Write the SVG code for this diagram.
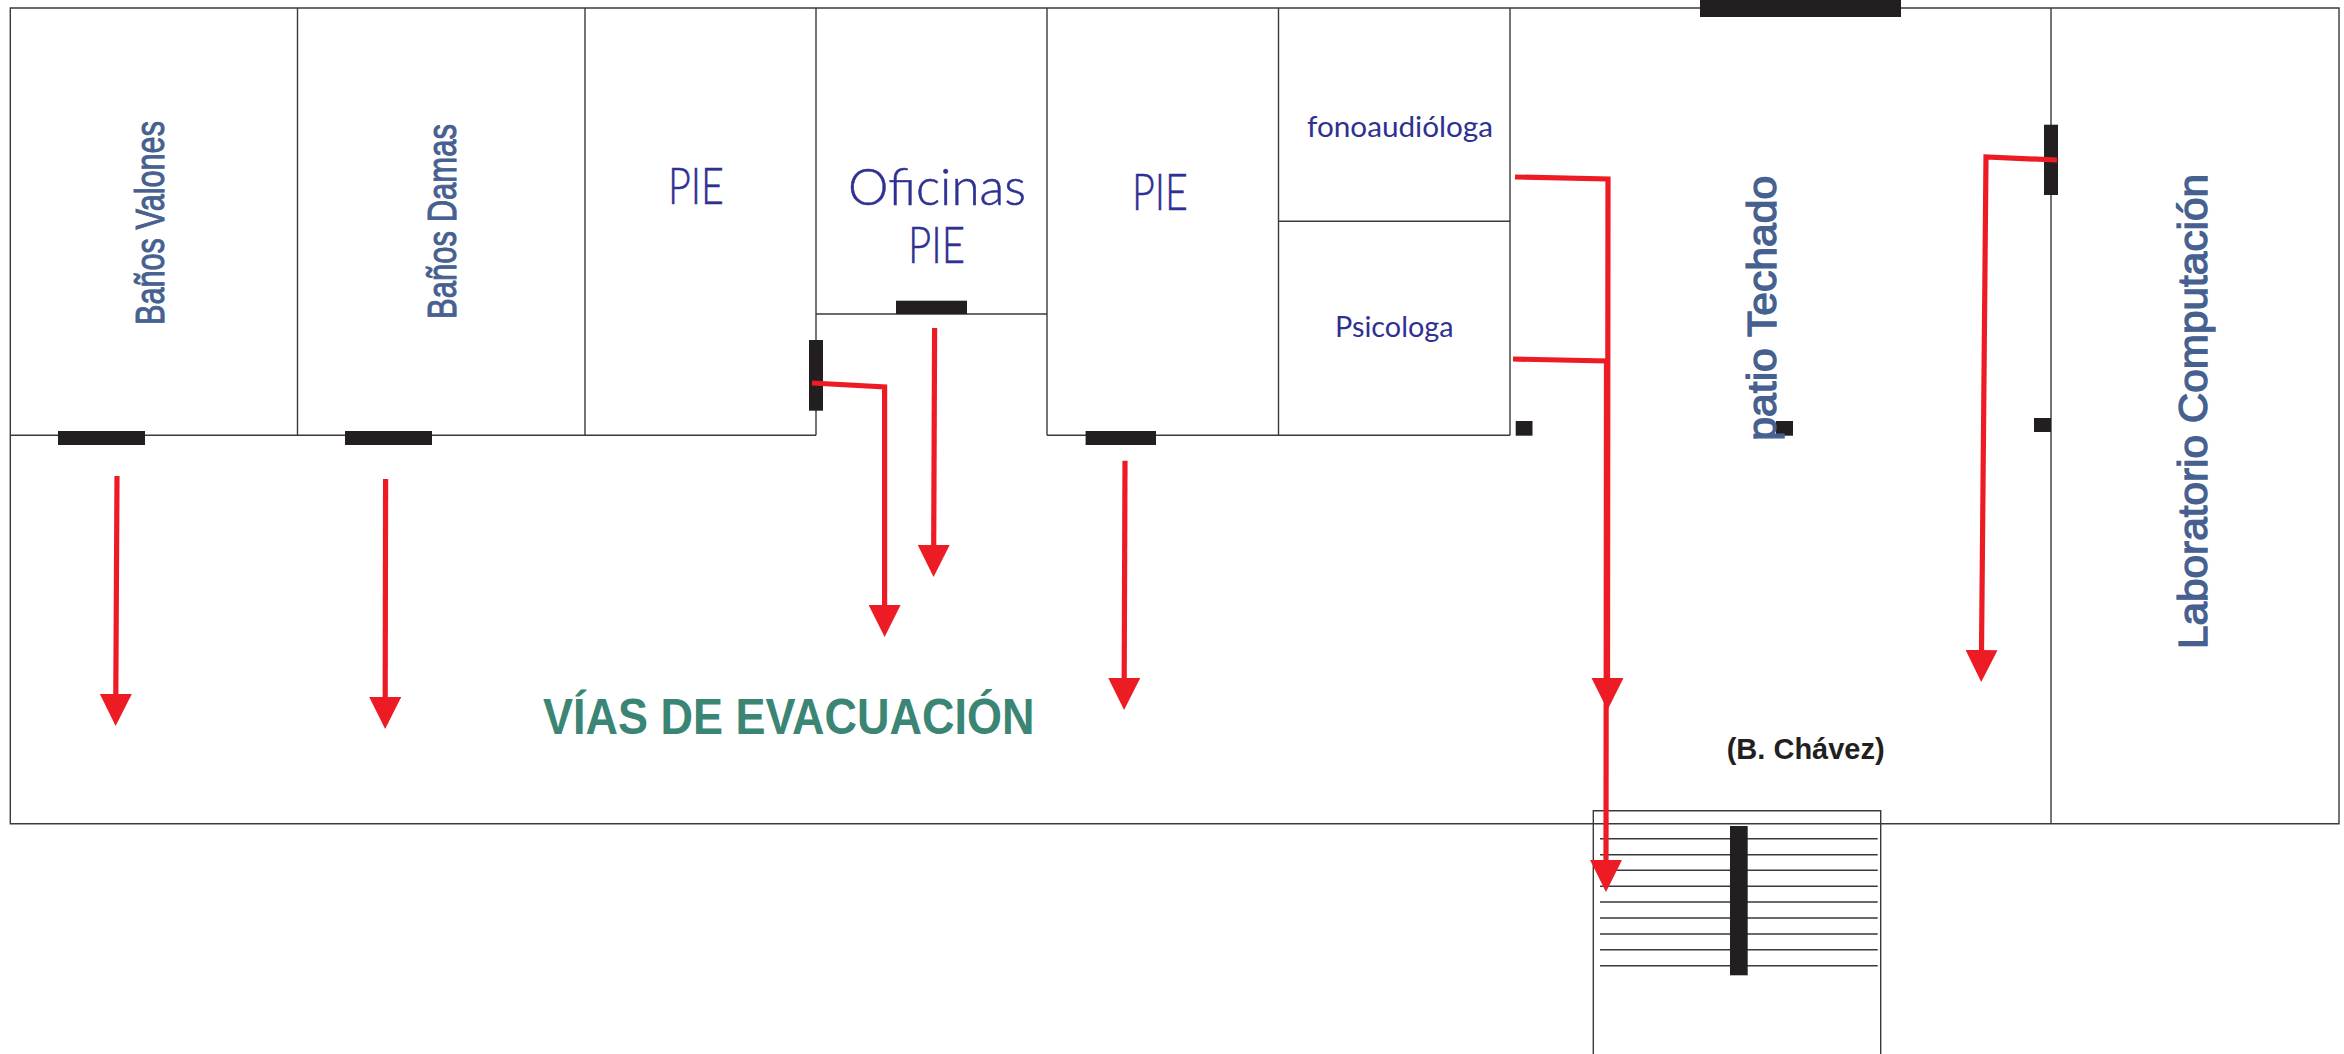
<svg xmlns="http://www.w3.org/2000/svg" width="2344" height="1054" viewBox="0 0 2344 1054">
<style>
.w{fill:none;stroke:#3a3a3a;stroke-width:1.4}
.d{fill:#231F20}
.r{fill:none;stroke:#ED1C24;stroke-width:5.2;marker-end:url(#ah)}
.n{font-family:"Lato","Liberation Sans",sans-serif;fill:#2E3191;font-weight:300;stroke:#2E3191;stroke-width:.5}
.m{font-family:"Lato","Liberation Sans",sans-serif;fill:#2E3191;font-weight:400}
.s{font-family:"Liberation Sans",sans-serif;fill:#46608F;font-weight:400;stroke:#46608F;stroke-width:1}
.sb{font-family:"Liberation Sans",sans-serif;fill:#46608F;font-weight:400;stroke:#46608F;stroke-width:1.3}
</style>
<defs>
<marker id="ah" markerUnits="userSpaceOnUse" viewBox="0 0 32 32" markerWidth="32" markerHeight="32" refX="2" refY="16" orient="auto"><path d="M0 0L32 16L0 32Z" fill="#ED1C24"/></marker>
</defs>
<rect width="2344" height="1054" fill="#fff"/>
<g id="building"><path class="w" d="M10.300 8H2339V823.700H10.300ZM10.300 435.300H816M2051 8V823.700M1047 435.300H1510"/></g>
<g id="banos-valones"><path class="w" d="M297.500 8V435.300"/><rect class="d" x="58" y="431" width="87" height="14"/><text class="s" transform="translate(164,325) rotate(-90)" font-size="40" textLength="204" lengthAdjust="spacingAndGlyphs">Baños Valones</text></g>
<g id="banos-damas"><path class="w" d="M585 8V435.300"/><rect class="d" x="345" y="431" width="87" height="14"/><text class="s" transform="translate(455.600,319) rotate(-90)" font-size="40" textLength="195" lengthAdjust="spacingAndGlyphs">Baños Damas</text></g>
<g id="pie-1"><path class="w" d="M816 8V435.300"/><text class="n" x="668" y="204" font-size="52" textLength="56" lengthAdjust="spacingAndGlyphs">PIE</text></g>
<g id="oficinas-pie"><path class="w" d="M816 314H1047"/><rect class="d" x="896" y="300.700" width="71" height="13.300"/><rect class="d" x="809" y="340" width="14" height="70.700"/><text class="n" x="848" y="205" font-size="52" textLength="178" lengthAdjust="spacingAndGlyphs">Oficinas</text><text class="n" x="908" y="262.700" font-size="52" textLength="57" lengthAdjust="spacingAndGlyphs">PIE</text></g>
<g id="pie-2"><path class="w" d="M1047 8V435.300"/><rect class="d" x="1085.600" y="431" width="70.400" height="14"/><text class="n" x="1132" y="210" font-size="52" textLength="56" lengthAdjust="spacingAndGlyphs">PIE</text></g>
<g id="fonoaudiologa"><path class="w" d="M1278.500 8V435.300M1278.500 221.300H1510"/><text class="m" x="1307" y="137.300" font-size="28" textLength="186" lengthAdjust="spacingAndGlyphs">fonoaudióloga</text></g>
<g id="psicologa"><path class="w" d="M1510 8V435.300"/><text class="m" x="1335" y="336.700" font-size="28" textLength="118.500" lengthAdjust="spacingAndGlyphs">Psicologa</text></g>
<g id="patio-techado"><rect class="d" x="1700" y="0" width="201" height="17"/><rect class="d" x="1515.700" y="421" width="16.800" height="14.700"/><rect class="d" x="1776" y="421" width="17" height="14.700"/><rect class="d" x="2034" y="418" width="17" height="14"/><rect class="d" x="2044" y="124.700" width="14" height="70.300"/><text class="sb" transform="translate(1776,440.700) rotate(-90)" font-size="40" textLength="265" lengthAdjust="spacingAndGlyphs">patio Techado</text><text x="1726.700" y="759" font-family="'Liberation Sans',sans-serif" font-weight="700" font-size="29" fill="#231F20" textLength="158" lengthAdjust="spacingAndGlyphs">(B. Chávez)</text></g>
<g id="laboratorio"><text class="sb" transform="translate(2206.700,649) rotate(-90)" font-size="41" textLength="475" lengthAdjust="spacingAndGlyphs">Laboratorio Computación</text></g>
<g id="escalera"><path class="w" d="M1593.300 1054V810.700H1880.700V1054"/><path class="w" d="M1600 838.700H1877.700M1600 854.700H1877.700M1600 870.300H1877.700M1600 886.300H1877.700M1600 902H1877.700M1600 918H1877.700M1600 934H1877.700M1600 949.700H1877.700M1600 965.700H1877.700"/><rect class="d" x="1730" y="826" width="17.700" height="149.300"/></g>
<g id="connectors">
<path class="r" d="M117 476L115.800 696"/>
<path class="r" d="M385.600 479L385.200 699"/>
<path class="r" d="M812 383L884.600 387V607"/>
<path class="r" d="M934.600 328L933.700 547"/>
<path class="r" d="M1125 460.700L1124.200 680"/>
<path class="r" d="M1515 177L1608 179L1607.500 680"/>
<path class="r" d="M1513 359L1606.500 361L1606 862"/>
<path class="r" d="M2057 160L1986 157L1981.500 652"/>
</g>
<text id="titulo" x="543" y="734" font-family="'Liberation Sans',sans-serif" font-weight="700" font-size="50" fill="#3B8574" textLength="491.500" lengthAdjust="spacingAndGlyphs">VÍAS DE EVACUACIÓN</text>
</svg>
